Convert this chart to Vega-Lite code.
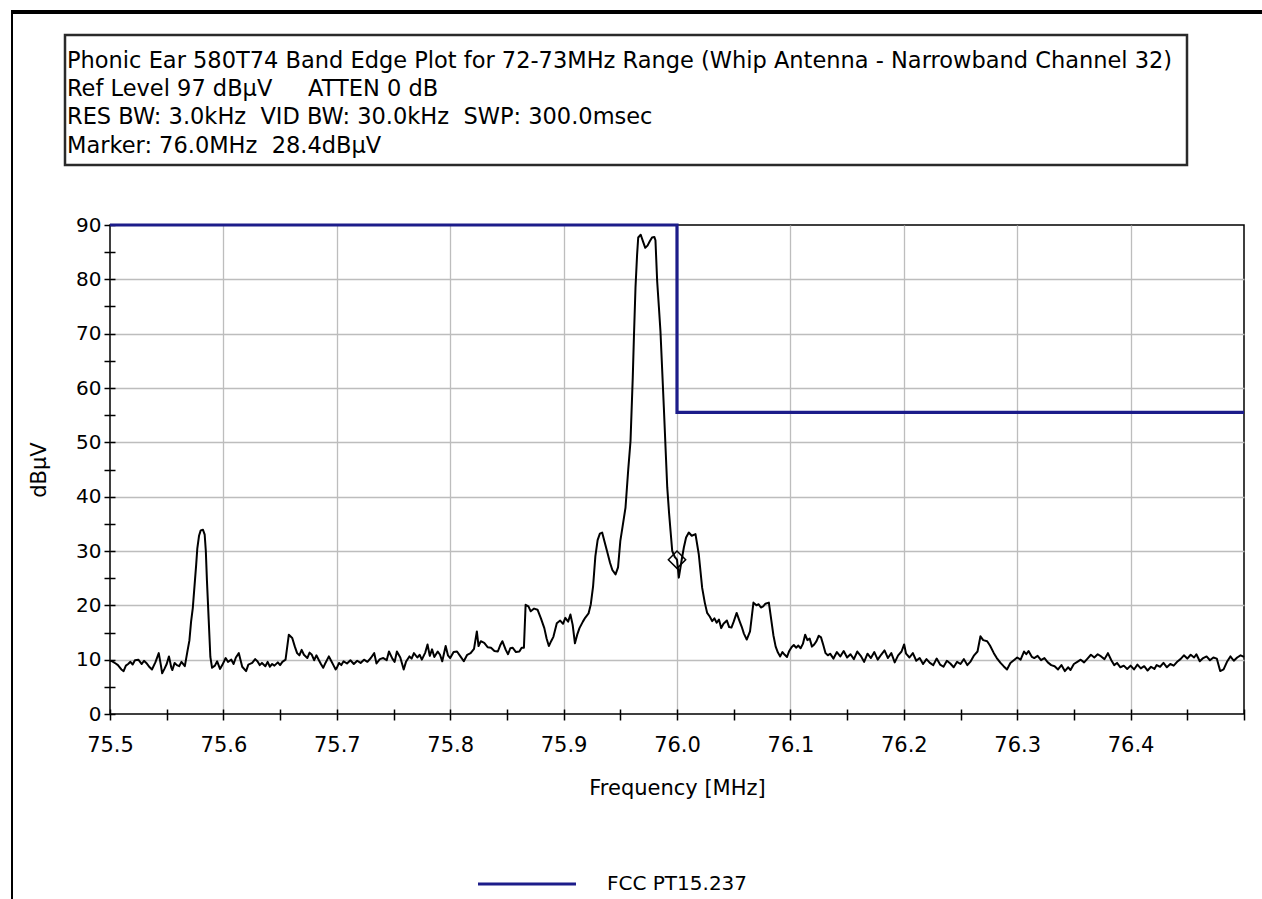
{
  "$schema": "https://vega.github.io/schema/vega-lite/v6.json",
  "background": "white",
  "padding": {"left": 11, "top": 10, "right": 0, "bottom": 0},
  "config": {
    "view": {"stroke": null},
    "font": "DejaVu Sans",
    "axis": {"labelFont": "DejaVu Sans", "titleFont": "DejaVu Sans", "labelColor": "black", "titleColor": "black", "titleFontWeight": "normal"}
  },
  "datasets": {
    "none": [],
    "header": [
      {"line": 1, "text": "Phonic Ear 580T74 Band Edge Plot for 72-73MHz Range (Whip Antenna - Narrowband Channel 32)"},
      {"line": 2, "text": "Ref Level 97 dBµV\u00a0\u00a0\u00a0\u00a0 ATTEN 0 dB"},
      {"line": 3, "text": "RES BW: 3.0kHz\u00a0 VID BW: 30.0kHz\u00a0 SWP: 300.0msec"},
      {"line": 4, "text": "Marker: 76.0MHz\u00a0 28.4dBµV"}
    ],
    "limit": [
      {"f": 75.5, "v": 90, "i": 1, "s": "FCC PT15.237"},
      {"f": 76.0, "v": 90, "i": 2, "s": "FCC PT15.237"},
      {"f": 76.0, "v": 55.5, "i": 3, "s": "FCC PT15.237"},
      {"f": 76.5, "v": 55.5, "i": 4, "s": "FCC PT15.237"}
    ],
    "marker": [{"f": 76.0, "v": 28.4}],
    "trace": [
      {"f":75.500,"v":9.8},{"f":75.502,"v":9.7},{"f":75.505,"v":9.3},{"f":75.507,"v":9.0},{"f":75.510,"v":8.2},{"f":75.512,"v":7.9},{"f":75.514,"v":8.9},{"f":75.516,"v":9.2},{"f":75.518,"v":9.6},{"f":75.520,"v":9.1},{"f":75.522,"v":9.9},{"f":75.525,"v":10.0},{"f":75.528,"v":9.2},{"f":75.530,"v":9.8},{"f":75.532,"v":9.4},{"f":75.535,"v":8.6},{"f":75.537,"v":8.2},{"f":75.540,"v":9.5},{"f":75.543,"v":11.2},{"f":75.545,"v":8.8},{"f":75.546,"v":7.5},{"f":75.548,"v":8.3},{"f":75.550,"v":9.2},{"f":75.552,"v":10.6},{"f":75.554,"v":8.6},{"f":75.555,"v":8.1},{"f":75.557,"v":9.4},{"f":75.559,"v":9.0},{"f":75.561,"v":8.8},{"f":75.563,"v":9.6},{"f":75.566,"v":8.8},
      {"f":75.5685,"v":11.8},{"f":75.570,"v":13.5},{"f":75.5715,"v":17.0},{"f":75.573,"v":19.5},{"f":75.5745,"v":23.5},{"f":75.576,"v":27.5},{"f":75.577,"v":30.5},{"f":75.5785,"v":32.8},{"f":75.580,"v":33.8},{"f":75.582,"v":33.9},{"f":75.5835,"v":33.0},{"f":75.5845,"v":30.0},{"f":75.5855,"v":24.5},{"f":75.587,"v":17.5},{"f":75.5885,"v":10.5},
      {"f":75.590,"v":8.5},{"f":75.5925,"v":8.9},{"f":75.5945,"v":9.7},{"f":75.597,"v":8.3},{"f":75.599,"v":9.0},{"f":75.602,"v":10.3},{"f":75.604,"v":9.6},{"f":75.607,"v":10.0},{"f":75.609,"v":9.2},{"f":75.611,"v":10.4},{"f":75.6136,"v":11.2},{"f":75.6166,"v":8.7},{"f":75.620,"v":7.9},{"f":75.622,"v":9.1},{"f":75.6254,"v":9.4},{"f":75.628,"v":10.1},{"f":75.630,"v":9.7},{"f":75.632,"v":9.0},{"f":75.634,"v":9.4},{"f":75.637,"v":8.8},{"f":75.639,"v":9.6},{"f":75.641,"v":8.7},{"f":75.643,"v":9.2},{"f":75.645,"v":8.9},{"f":75.648,"v":9.5},{"f":75.650,"v":9.0},{"f":75.652,"v":9.6},{"f":75.6548,"v":10.0},{"f":75.6577,"v":14.6},{"f":75.6607,"v":14.0},{"f":75.663,"v":12.4},{"f":75.665,"v":11.2},{"f":75.667,"v":10.8},{"f":75.669,"v":11.8},{"f":75.671,"v":10.9},{"f":75.674,"v":10.3},{"f":75.676,"v":11.3},{"f":75.678,"v":10.9},{"f":75.680,"v":9.9},{"f":75.682,"v":10.8},{"f":75.684,"v":10.0},{"f":75.686,"v":9.2},{"f":75.688,"v":8.5},{"f":75.690,"v":9.4},{"f":75.693,"v":10.6},{"f":75.695,"v":9.8},{"f":75.697,"v":9.0},{"f":75.699,"v":8.2},
      {"f":75.700,"v":8.5},{"f":75.702,"v":9.4},{"f":75.704,"v":9.0},{"f":75.706,"v":9.7},{"f":75.709,"v":9.3},{"f":75.712,"v":9.9},{"f":75.715,"v":9.2},{"f":75.718,"v":9.8},{"f":75.721,"v":9.4},{"f":75.724,"v":10.0},{"f":75.727,"v":9.6},{"f":75.730,"v":10.3},{"f":75.733,"v":11.2},{"f":75.735,"v":9.3},{"f":75.738,"v":10.1},{"f":75.741,"v":10.3},{"f":75.744,"v":9.9},{"f":75.746,"v":11.5},{"f":75.749,"v":10.2},{"f":75.751,"v":9.6},{"f":75.753,"v":11.5},{"f":75.756,"v":10.4},{"f":75.759,"v":8.2},{"f":75.761,"v":9.6},{"f":75.764,"v":10.6},{"f":75.766,"v":10.2},{"f":75.768,"v":11.2},{"f":75.771,"v":10.4},{"f":75.773,"v":10.9},{"f":75.775,"v":10.0},{"f":75.778,"v":11.3},{"f":75.780,"v":12.8},{"f":75.782,"v":10.7},{"f":75.784,"v":11.9},{"f":75.786,"v":10.5},{"f":75.789,"v":11.5},{"f":75.791,"v":10.9},{"f":75.793,"v":9.7},{"f":75.796,"v":12.5},{"f":75.798,"v":10.8},
      {"f":75.800,"v":10.3},{"f":75.803,"v":11.4},{"f":75.806,"v":11.5},{"f":75.809,"v":10.6},{"f":75.812,"v":9.7},{"f":75.815,"v":10.9},{"f":75.818,"v":11.2},{"f":75.821,"v":12.0},{"f":75.8235,"v":15.2},{"f":75.825,"v":12.5},{"f":75.827,"v":13.4},{"f":75.830,"v":13.1},{"f":75.833,"v":12.3},{"f":75.836,"v":12.2},{"f":75.839,"v":11.6},{"f":75.842,"v":11.5},{"f":75.844,"v":12.6},{"f":75.846,"v":13.4},{"f":75.849,"v":11.8},{"f":75.851,"v":11.0},{"f":75.853,"v":12.1},{"f":75.855,"v":12.2},{"f":75.858,"v":11.4},{"f":75.861,"v":11.5},{"f":75.863,"v":12.2},{"f":75.865,"v":12.2},
      {"f":75.8665,"v":20.1},{"f":75.869,"v":19.8},{"f":75.871,"v":18.9},{"f":75.874,"v":19.4},{"f":75.877,"v":19.2},{"f":75.880,"v":17.6},{"f":75.883,"v":15.8},{"f":75.885,"v":13.9},{"f":75.887,"v":12.5},{"f":75.889,"v":13.4},{"f":75.891,"v":14.2},{"f":75.894,"v":16.7},{"f":75.897,"v":17.2},{"f":75.8995,"v":16.6},{"f":75.9015,"v":17.7},{"f":75.904,"v":17.0},{"f":75.906,"v":18.3},{"f":75.908,"v":16.4},{"f":75.910,"v":13.0},{"f":75.912,"v":14.6},{"f":75.914,"v":15.8},{"f":75.917,"v":17.0},{"f":75.919,"v":17.7},{"f":75.922,"v":18.5},
      {"f":75.924,"v":20.2},{"f":75.926,"v":23.5},{"f":75.928,"v":29.0},{"f":75.930,"v":32.0},{"f":75.932,"v":33.2},{"f":75.934,"v":33.4},{"f":75.936,"v":31.8},{"f":75.9385,"v":29.8},{"f":75.941,"v":27.8},{"f":75.943,"v":26.5},{"f":75.9458,"v":25.7},{"f":75.948,"v":27.0},{"f":75.950,"v":31.8},{"f":75.952,"v":34.5},{"f":75.9546,"v":38.0},{"f":75.957,"v":45.0},{"f":75.959,"v":50.2},{"f":75.961,"v":62.0},{"f":75.962,"v":69.3},{"f":75.9634,"v":78.5},{"f":75.9648,"v":84.5},{"f":75.9658,"v":87.7},{"f":75.968,"v":88.2},{"f":75.970,"v":87.0},{"f":75.972,"v":85.8},{"f":75.974,"v":86.2},{"f":75.976,"v":87.0},{"f":75.978,"v":87.7},{"f":75.980,"v":87.8},{"f":75.981,"v":87.2},{"f":75.9825,"v":79.7},{"f":75.984,"v":75.0},{"f":75.9854,"v":70.5},{"f":75.987,"v":63.0},{"f":75.9884,"v":56.4},{"f":75.990,"v":48.5},{"f":75.9914,"v":41.7},{"f":75.993,"v":37.0},{"f":75.9943,"v":33.7},{"f":75.9958,"v":30.0},{"f":75.998,"v":28.9},{"f":76.000,"v":28.4},{"f":76.0016,"v":25.1},{"f":76.004,"v":28.2},{"f":76.006,"v":30.6},{"f":76.008,"v":32.5},{"f":76.0104,"v":33.4},{"f":76.013,"v":32.8},{"f":76.0163,"v":33.1},{"f":76.0192,"v":29.4},{"f":76.0222,"v":23.2},{"f":76.0245,"v":20.5},{"f":76.0266,"v":18.6},{"f":76.029,"v":17.9},{"f":76.031,"v":17.1},{"f":76.033,"v":17.6},{"f":76.035,"v":16.8},{"f":76.037,"v":17.4},{"f":76.039,"v":15.8},{"f":76.041,"v":16.6},{"f":76.044,"v":17.2},{"f":76.046,"v":16.0},{"f":76.048,"v":15.9},{"f":76.050,"v":17.0},{"f":76.0526,"v":18.6},{"f":76.055,"v":17.2},{"f":76.057,"v":16.1},{"f":76.059,"v":14.8},{"f":76.0615,"v":13.7},{"f":76.0644,"v":15.2},{"f":76.066,"v":18.0},{"f":76.0674,"v":20.5},{"f":76.070,"v":20.0},{"f":76.072,"v":20.2},{"f":76.074,"v":19.6},{"f":76.076,"v":19.8},{"f":76.078,"v":20.3},{"f":76.081,"v":20.5},{"f":76.083,"v":17.5},{"f":76.085,"v":14.5},{"f":76.087,"v":12.4},
      {"f":76.089,"v":11.3},{"f":76.091,"v":10.6},{"f":76.093,"v":11.4},{"f":76.095,"v":10.9},{"f":76.097,"v":10.5},{"f":76.099,"v":11.6},{"f":76.101,"v":12.3},{"f":76.103,"v":12.7},{"f":76.105,"v":12.2},{"f":76.107,"v":12.6},{"f":76.109,"v":12.1},{"f":76.111,"v":12.9},{"f":76.113,"v":14.6},{"f":76.115,"v":13.6},{"f":76.117,"v":13.9},{"f":76.119,"v":12.4},{"f":76.121,"v":12.8},{"f":76.123,"v":13.4},{"f":76.125,"v":14.4},{"f":76.127,"v":14.1},{"f":76.129,"v":12.7},{"f":76.131,"v":11.2},{"f":76.133,"v":10.8},{"f":76.135,"v":11.1},{"f":76.138,"v":10.2},{"f":76.141,"v":11.4},{"f":76.144,"v":10.6},{"f":76.147,"v":11.6},{"f":76.150,"v":10.4},{"f":76.153,"v":11.0},{"f":76.156,"v":10.1},{"f":76.159,"v":11.5},{"f":76.162,"v":10.7},{"f":76.165,"v":9.6},{"f":76.168,"v":11.1},{"f":76.171,"v":10.3},{"f":76.174,"v":11.4},{"f":76.177,"v":10.0},{"f":76.180,"v":10.9},{"f":76.183,"v":11.7},{"f":76.186,"v":10.3},{"f":76.189,"v":11.2},{"f":76.192,"v":9.5},{"f":76.195,"v":10.8},{"f":76.198,"v":11.5},{"f":76.2003,"v":12.8},{"f":76.202,"v":11.1},{"f":76.205,"v":10.4},{"f":76.208,"v":11.2},{"f":76.211,"v":9.8},{"f":76.214,"v":10.3},{"f":76.217,"v":9.2},{"f":76.220,"v":10.1},{"f":76.223,"v":9.4},{"f":76.226,"v":9.0},{"f":76.229,"v":10.2},{"f":76.232,"v":9.1},{"f":76.235,"v":8.7},{"f":76.238,"v":9.8},{"f":76.241,"v":9.3},{"f":76.244,"v":8.6},{"f":76.247,"v":9.6},{"f":76.250,"v":9.2},{"f":76.253,"v":10.1},{"f":76.256,"v":9.0},{"f":76.259,"v":9.7},{"f":76.262,"v":10.8},{"f":76.265,"v":11.5},{"f":76.2676,"v":14.3},{"f":76.270,"v":13.6},{"f":76.2735,"v":13.4},{"f":76.276,"v":12.6},{"f":76.2794,"v":11.2},{"f":76.282,"v":10.3},{"f":76.2853,"v":9.4},{"f":76.288,"v":8.8},{"f":76.291,"v":8.2},{"f":76.294,"v":9.4},{"f":76.297,"v":9.9},
      {"f":76.300,"v":10.4},{"f":76.303,"v":10.0},{"f":76.306,"v":11.5},{"f":76.308,"v":11.0},{"f":76.310,"v":11.6},{"f":76.313,"v":10.5},{"f":76.315,"v":10.3},{"f":76.318,"v":10.7},{"f":76.321,"v":9.9},{"f":76.324,"v":10.3},{"f":76.327,"v":9.5},{"f":76.330,"v":9.0},{"f":76.333,"v":8.8},{"f":76.336,"v":8.2},{"f":76.339,"v":9.0},{"f":76.342,"v":7.9},{"f":76.345,"v":8.6},{"f":76.347,"v":8.1},{"f":76.350,"v":9.2},{"f":76.353,"v":9.6},{"f":76.356,"v":10.0},{"f":76.359,"v":9.5},{"f":76.362,"v":10.2},{"f":76.365,"v":10.9},{"f":76.368,"v":10.4},{"f":76.371,"v":11.0},{"f":76.374,"v":10.6},{"f":76.377,"v":10.1},{"f":76.380,"v":11.2},{"f":76.383,"v":9.9},{"f":76.3855,"v":9.0},{"f":76.388,"v":9.4},{"f":76.391,"v":8.6},{"f":76.394,"v":8.9},{"f":76.397,"v":8.3},{"f":76.400,"v":8.9},{"f":76.403,"v":8.2},{"f":76.406,"v":9.1},{"f":76.409,"v":8.4},{"f":76.412,"v":8.8},{"f":76.415,"v":8.0},{"f":76.418,"v":8.7},{"f":76.421,"v":8.3},{"f":76.423,"v":9.0},{"f":76.426,"v":8.7},{"f":76.429,"v":9.4},{"f":76.432,"v":8.6},{"f":76.435,"v":9.2},{"f":76.438,"v":8.9},{"f":76.441,"v":9.6},{"f":76.444,"v":10.1},{"f":76.447,"v":10.8},{"f":76.450,"v":10.2},{"f":76.453,"v":10.9},{"f":76.456,"v":10.4},{"f":76.458,"v":11.0},{"f":76.461,"v":9.7},{"f":76.464,"v":10.3},{"f":76.467,"v":10.6},{"f":76.470,"v":9.9},{"f":76.473,"v":10.4},{"f":76.476,"v":10.2},{"f":76.479,"v":7.9},{"f":76.482,"v":8.2},{"f":76.485,"v":9.6},{"f":76.488,"v":10.6},{"f":76.491,"v":9.8},{"f":76.494,"v":10.4},{"f":76.497,"v":10.8},{"f":76.500,"v":10.5}
    ]
  },
  "hconcat": [
    {"width": 2, "height": 889, "data": {"name": "none"}, "mark": "point", "view": {"fill": "black", "stroke": null}},
    {
      "vconcat": [
        {"width": 1249, "height": 4, "data": {"name": "none"}, "mark": "point", "view": {"fill": "black", "stroke": null}},
        {"width": 1, "height": 19, "data": {"name": "none"}, "mark": "point"},
        {
          "hconcat": [
            {"width": 50, "height": 1, "data": {"name": "none"}, "mark": "point"},
            {
              "width": 1122, "height": 130,
              "view": {"stroke": "#2a2a2a", "strokeWidth": 2.5},
              "data": {"name": "header"},
              "mark": {"type": "text", "align": "left", "baseline": "middle", "font": "DejaVu Sans", "fontSize": 22.5, "color": "black", "dx": 2},
              "encoding": {
                "x": {"datum": 0, "type": "quantitative", "scale": {"domain": [0, 1]}, "axis": null},
                "y": {"field": "line", "type": "ordinal", "axis": null, "scale": {"type": "point", "padding": 0.8, "align": 0.57}},
                "text": {"field": "text"}
              }
            }
          ],
          "spacing": 0, "align": "none"
        },
        {"width": 1, "height": 47, "data": {"name": "none"}, "mark": "point"},
        {
          "hconcat": [
            {"width": 14, "height": 1, "data": {"name": "none"}, "mark": "point"},
            {
              "width": 1134, "height": 489,
              "view": {"stroke": "black", "strokeWidth": 1.5},
              "encoding": {
                "x": {
                  "field": "f", "type": "quantitative",
                  "scale": {"domain": [75.5, 76.5], "nice": false, "zero": false},
                  "axis": {
                    "title": "Frequency [MHz]",
                    "values": [75.5, 75.55, 75.6, 75.65, 75.7, 75.75, 75.8, 75.85, 75.9, 75.95, 76.0, 76.05, 76.1, 76.15, 76.2, 76.25, 76.3, 76.35, 76.4, 76.45, 76.5],
                    "format": ".1f",
                    "labelExpr": "(round(datum.value*20) % 2 == 0 && datum.value < 76.45) ? datum.label : ''",
                    "labelOverlap": false, "labelFlush": false,
                    "offset": -5, "tickSize": 11, "tickWidth": 1.5, "tickColor": "black",
                    "domain": false,
                    "grid": true, "gridColor": "#bdbdbd", "gridWidth": 1.3,
                    "gridOpacity": {"condition": {"test": "round(datum.value*20) % 2 == 0 && datum.value > 75.55 && datum.value < 76.45", "value": 1}, "value": 0},
                    "labelFontSize": 21, "labelPadding": 14,
                    "titleFontSize": 21, "titlePadding": 22
                  }
                },
                "y": {
                  "field": "v", "type": "quantitative",
                  "scale": {"domain": [0, 90], "nice": false, "zero": false},
                  "axis": {
                    "title": "dBµV",
                    "values": [0, 5, 10, 15, 20, 25, 30, 35, 40, 45, 50, 55, 60, 65, 70, 75, 80, 85, 90],
                    "labelExpr": "datum.value % 10 == 0 ? datum.label : ''",
                    "offset": -5, "tickSize": 11, "tickWidth": 1.5, "tickColor": "black",
                    "domain": false,
                    "grid": true, "gridColor": "#bdbdbd", "gridWidth": 1.3,
                    "gridOpacity": {"condition": {"test": "datum.value % 10 == 0 && datum.value > 0 && datum.value < 90", "value": 1}, "value": 0},
                    "labelFontSize": 20, "labelPadding": 3,
                    "titleFontSize": 21, "titlePadding": 26
                  }
                }
              },
              "layer": [
                {
                  "data": {"name": "trace"},
                  "mark": {"type": "line", "color": "black", "strokeWidth": 2, "strokeJoin": "round"}
                },
                {
                  "data": {"name": "limit"},
                  "mark": {"type": "line", "strokeWidth": 3.2},
                  "encoding": {
                    "order": {"field": "i", "type": "quantitative"},
                    "color": {
                      "field": "s", "type": "nominal",
                      "scale": {"domain": ["FCC PT15.237"], "range": ["#1c1c8a"]},
                      "legend": {
                        "title": null, "orient": "none", "legendX": 502, "legendY": 860,
                        "padding": 0, "symbolType": "M-4,0H4", "symbolSize": 600, "symbolStrokeWidth": 3.2,
                        "labelOffset": 66, "labelFont": "DejaVu Sans", "labelFontSize": 20, "labelColor": "black"
                      }
                    }
                  }
                },
                {
                  "data": {"name": "marker"},
                  "mark": {"type": "point", "shape": "diamond", "filled": false, "color": "black", "strokeWidth": 1.5, "size": 300, "opacity": 1}
                }
              ]
            }
          ],
          "spacing": 0, "align": "none"
        }
      ],
      "spacing": 0, "align": "none"
    }
  ],
  "spacing": 0,
  "align": "none"
}
